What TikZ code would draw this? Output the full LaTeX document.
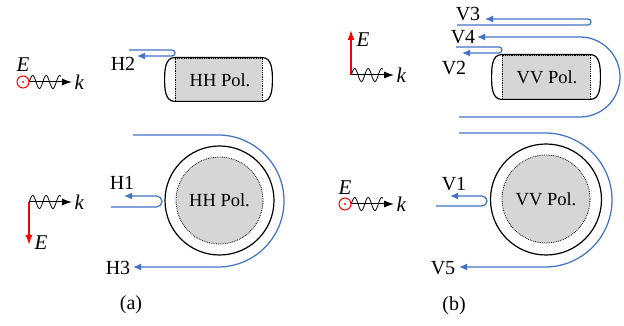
\documentclass[tikz,border=0pt]{standalone}
\usepackage{fontspec}
\setmainfont{Liberation Serif}
\usetikzlibrary{arrows.meta}

\definecolor{beamblue}{HTML}{4472C4}
\definecolor{polgray}{HTML}{D6D6D6}

\begin{document}
\begin{tikzpicture}[
  x=1pt, y=1pt,
  font=\fontsize{20}{22}\selectfont,
  lab/.style={inner sep=0pt},
  sym/.style={inner sep=0pt, font=\fontsize{21}{22}\selectfont\itshape},
  pol/.style={font=\fontsize{18.5}{20}\selectfont, inner sep=0pt},
  beam/.style={-{Latex[length=8pt,width=7pt]}, draw=beamblue, line width=1.25pt},
  karr/.style={-{Latex[length=10pt,width=7pt]}, draw=black, line width=1pt},
  earr/.style={-{Latex[length=10pt,width=7pt]}, draw=red, line width=1.4pt},
  wav/.style={draw=black, line width=0.8pt},
  ecirc/.style={circle, draw=red, line width=1pt, minimum size=12pt, inner sep=0pt},
  shell/.style={circle, draw=black, line width=1.2pt, inner sep=0pt},
  core/.style={circle, draw=black, densely dotted, fill=polgray, line width=0.8pt, inner sep=0pt},
  slab/.style={draw=black, densely dotted, fill=polgray, line width=0.8pt, inner sep=0pt}
]
\useasboundingbox (0,0) rectangle (624,326);

% film edge-on
\node[slab, minimum width=87pt, minimum height=43pt] (hhslab) at (218.5,246.5) {};
\node[slab, minimum width=88pt, minimum height=44pt] (vvslab) at (546,249) {};
\foreach \n in {hhslab,vvslab}
  \draw[line width=1.2pt] (\n.north west) -- (\n.north east)
    to[out=0,in=90] ++(10,-21.5) to[out=-90,in=0] (\n.south east)
    -- (\n.south west)
    to[out=180,in=-90] ++(-10,21.5) to[out=90,in=180] (\n.north west);
\node[pol] (hhtext) at (220,246) {HH Pol.};
\node[pol] (vvtext) at (547,249) {VV Pol.};

% sphere
\node[shell, minimum size=109pt] (hhshell) at (219.5,125.5) {};
\node[core, minimum size=87pt] (hhcore) at (219.5,125.5) {\fontsize{18.5}{20}\selectfont HH Pol.};
\node[shell, minimum size=111pt] (vvshell) at (546,126.5) {};
\node[core, minimum size=88pt] (vvcore) at (546,127) {\fontsize{18.5}{20}\selectfont VV Pol.};

% beam ends and turning points
\coordinate (h1-a) at (111,119);  \coordinate (h1-t) at (156.5,119); \coordinate (h1-b) at (124,130);
\coordinate (h2-a) at (129,276);  \coordinate (h2-t) at (172,276);   \coordinate (h2-b) at (137,270);
\coordinate (h3-a) at (133,191);  \coordinate (h3-t) at (218,191);   \coordinate (h3-b) at (133,59);
\coordinate (v1-a) at (436,120);  \coordinate (v1-t) at (482,120);   \coordinate (v1-b) at (450,130);
\coordinate (v2-a) at (456,279);  \coordinate (v2-t) at (499,279);   \coordinate (v2-b) at (462,273);
\coordinate (v3-a) at (457,301);  \coordinate (v3-t) at (588,301);   \coordinate (v3-b) at (485,307);
\coordinate (v4-a) at (459,209);  \coordinate (v4-t) at (580,209);   \coordinate (v4-b) at (477,289);
\coordinate (v5-a) at (459,193);  \coordinate (v5-t) at (545,193);   \coordinate (v5-b) at (459,59);

\foreach \n/\s/\e/\r in {h1/-90/90/5.5, h2/90/-90/3, h3/90/-90/66,
    v1/-90/90/5, v2/90/-90/3, v3/-90/90/3, v4/-90/90/40, v5/90/-90/67}
  \draw[beam] (\n-a) -- (\n-t) arc[start angle=\s, end angle=\e, radius=\r] -- (\n-b);

\node[lab] (h1) at (122,143) {H1};
\node[lab] (h2) at (123,262) {H2};
\node[lab] (h3) at (118,58) {H3};
\node[lab] (v1) at (454,142) {V1};
\node[lab] (v2) at (454,258) {V2};
\node[lab] (v3) at (468,312) {V3};
\node[lab] (v4) at (463,289) {V4};
\node[lab] (v5) at (443,58) {V5};
\node[lab] (capa) at (131,21) {(a)};
\node[lab] (capb) at (454,20) {(b)};

% polarisation out of the plane
\node[ecirc] (ha) at (23,244) {};
\node[ecirc] (vb) at (345,122) {};
\foreach \n in {ha,vb}
  \fill[red] (\n) circle (1.2);
\node[sym] (eha) at (23,261) {E};
\node[sym] (evb) at (345,138) {E};

% polarisation in the plane
\coordinate (hb) at (29,124);
\coordinate (va) at (351,251);
\coordinate (hbe) at (29,81);
\coordinate (vae) at (351,296);
\draw[earr] (hb) -- (hbe);
\draw[earr] (va) -- (vae);
\node[sym] (ehb) at (41,83) {E};
\node[sym] (eva) at (363,286) {E};

% wave and k
\coordinate (kha) at (72,244);
\coordinate (khb) at (72,124);
\coordinate (kva) at (394,251);
\coordinate (kvb) at (394,122);
\foreach \o/\t in {ha/kha, hb/khb, va/kva, vb/kvb}{
  \draw[karr] (\o) -- (\t);
  \path (\t) node[sym, right=2.5pt] (\t lab) {k};
}
\foreach \px/\py in {29.3/244, 29.3/124, 351.3/251, 351.3/122}
  \draw[wav, shift={(\px,\py)}] plot[domain=0:31.5, samples=60, smooth] (\x,{6.5*sin(\x*26.67)});

\end{tikzpicture}
\end{document}
